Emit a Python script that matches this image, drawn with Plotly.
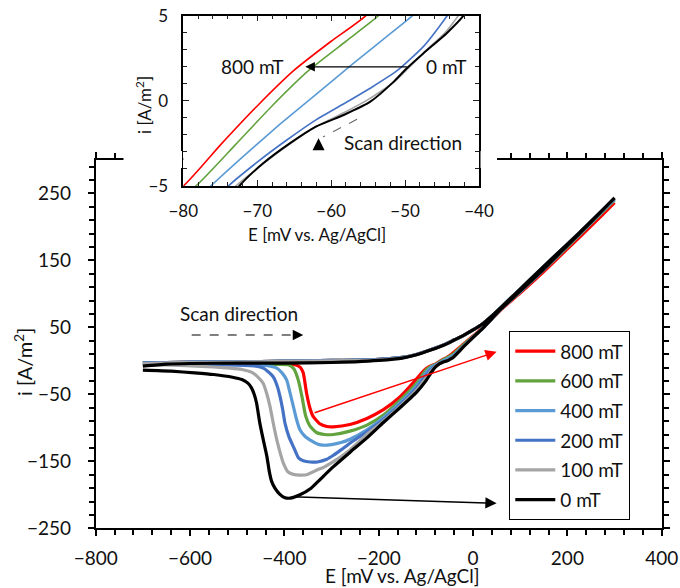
import plotly.graph_objects as go

# ---------------------------------------------------------------------------
# Data: linear sweep voltammograms under different magnetic fields
# E in mV vs. Ag/AgCl, i in A/m^2
# ---------------------------------------------------------------------------
FIELDS = ["800 mT", "600 mT", "400 mT", "200 mT", "100 mT", "0 mT"]
COLORS = ["#FF0000", "#63A33E", "#5B9BD5", "#4472C4", "#A5A5A5", "#000000"]

# forward sweep (shared potential grid)
E_FWD = [-700, -650, -600, -500, -400, -300, -250, -200, -150, -120, -90, -60,
         -40, -20, 0, 20, 40, 60, 100, 150, 200, 250, 300]
I_FWD_800 = [-3, -2.5, -2, -1.5, -0.5, 0.5, 1, 2, 5, 9.5, 16.5, 24.5,
             31, 38, 46, 55, 66, 78, 105, 138, 170, 203, 236]
I_FWD_600 = [-3, -2.5, -2, -1.5, -0.5, 0.5, 1, 2, 5, 9.5, 16.5, 24.5,
             31, 38, 46, 55, 67, 80, 107, 140, 173, 206, 240]
I_FWD_400 = [-3, -2.5, -2, -1.5, -0.5, 0.5, 1, 2, 5, 9.5, 16.5, 24.5,
             31, 38, 46, 55, 67, 80, 107, 140, 173, 207, 241]
I_FWD_200 = [-3, -2.5, -2, -1.5, -0.5, 0.5, 1, 2, 5, 9.5, 16.5, 24.5,
             31, 38, 46, 55, 67, 80, 107, 141, 174, 208, 242]
I_FWD_100 = [-4, -3, -2.5, -2, -1, 0, 0.5, 1.5, 4.5, 9, 16, 24,
             31, 38, 46, 55, 67, 80, 107, 141, 174, 208, 243]
I_FWD_0 = [-8, -5, -4, -3.5, -3.5, -2.5, -1.5, 0.5, 4, 9, 16, 24,
           31, 38, 46, 55, 67, 80, 107, 141, 174, 208, 243]

# reverse sweep (each curve has its own potential points)
E_REV_800 = [300, 250, 200, 150, 100, 60, 40, 20, 0, -20, -40, -55.3, -60,
             -65, -70, -75, -80, -90, -100, -110, -127, -155, -190, -225,
             -261, -296, -310, -325, -339, -346, -353, -360, -366, -374, -385,
             -420, -500, -600, -700]
I_REV_800 = [236, 201, 167, 133, 101, 77, 63, 49, 37, 25, 13, 5, 3.5,
             1.8, -0.3, -2.6, -5, -7.8, -12, -19, -33, -54, -73, -86,
             -95, -98.5, -98, -94, -83, -70, -48, -18, -10, -6.5, -5.5,
             -5, -4.5, -4, -4]

E_REV_600 = [300, 250, 200, 150, 100, 60, 40, 20, 0, -20, -40, -53.6, -58,
             -63, -68, -73, -78.3, -90, -100, -120, -155, -190, -225,
             -261, -296, -315, -332, -346, -355, -362, -370, -380, -392,
             -420, -500, -600, -700]
I_REV_600 = [240, 205, 170, 136, 103, 78, 63, 48, 36, 24, 11, 5, 3.5,
             1.8, -0.3, -2.6, -5, -8.8, -14, -34, -59, -81, -96,
             -105, -110, -110, -107, -97, -82, -56, -30, -12, -6,
             -5.5, -5, -4.5, -4]

E_REV_400 = [300, 250, 200, 150, 100, 60, 40, 20, 0, -20, -40, -49, -53,
             -57, -62, -67, -72, -76.3, -90, -100, -120, -155, -190,
             -225, -261, -280, -300, -318, -330, -346, -356, -367, -374, -381,
             -388, -395, -405, -416, -440, -500, -600, -700]
I_REV_400 = [241, 206, 171, 136, 103, 78, 63, 48, 35, 22, 9, 5, 3.6,
             2.2, 0.4, -1.4, -3.3, -5, -10.5, -18, -38, -63, -85,
             -103, -117, -122, -125, -126, -124, -118, -113, -103, -88, -68,
             -48, -29, -18, -11, -7, -5.5, -4.5, -4]

E_REV_200 = [300, 250, 200, 150, 100, 60, 40, 20, 0, -20, -35, -44.3, -47.5,
             -51, -54.5, -58, -62, -66, -70, -73.9, -80, -90, -100, -120,
             -155, -190, -225, -261, -280, -296, -310, -330, -345, -360, -370,
             -381, -390, -398.7, -403, -409, -415, -423.5, -435, -444.7, -460,
             -500, -600, -700]
I_REV_200 = [242, 207, 172, 137, 104, 78, 63, 48, 35, 22, 11, 5, 3.2,
             1.8, 0.8, -0.1, -1.1, -2.3, -3.6, -5, -7.8, -14, -22, -41,
             -66, -88, -106, -123, -133, -141, -147, -151, -151, -149, -145,
             -128, -114, -93, -75, -54, -38, -24, -16, -11, -8,
             -6.5, -5, -4]

E_REV_100 = [300, 250, 200, 150, 100, 60, 40, 20, 0, -20, -35, -42.8, -44.6,
             -47.3, -49.6, -51.5, -54.9, -58.3, -62, -65.8, -69.5, -72.9, -80,
             -90, -100, -120, -155, -190, -225, -261, -296, -317, -331, -353,
             -367, -381, -392, -402, -409, -416, -423, -430.5, -437, -444.7,
             -455, -470, -490, -515, -586, -657, -700]
I_REV_100 = [243, 207, 172, 137, 104, 78, 63, 48, 35, 21, 10, 5, 4.0,
             2.9, 1.9, 1.1, 0.1, -0.7, -1.5, -2.6, -3.8, -5, -8.3,
             -16.5, -26, -44, -68, -90, -110, -133, -150.6, -159, -163, -170,
             -170.5, -169.5, -166, -153, -137, -118, -95, -68, -50, -34,
             -25, -17, -13, -11, -7.8, -6, -5]

E_REV_0 = [300, 250, 200, 150, 100, 60, 40, 20, 0, -20, -35, -42.1, -44.4,
           -47.5, -49.8, -51.6, -54.7, -58.3, -62, -65.6, -69.2, -72.3, -80,
           -90, -100, -120, -155, -190, -225, -260, -296, -330, -345, -367,
           -388, -400, -410, -420, -427, -432, -437, -445, -452, -459, -464,
           -470, -478, -490, -510, -550, -590, -640, -700]
I_REV_0 = [243, 207, 172, 137, 104, 78, 63, 48, 35, 21, 10, 5, 3.96,
           2.8, 1.9, 1.1, -0.05, -0.83, -1.5, -2.5, -3.67, -4.94, -9.5,
           -19, -30, -47, -70, -92, -115, -136, -158, -181, -191, -200,
           -205, -204, -199, -190, -180, -165, -143, -117, -93, -63, -50,
           -40, -33, -28, -24.5, -20.5, -18, -15.5, -14]

CURVES = [
    (E_REV_800, I_FWD_800, I_REV_800),
    (E_REV_600, I_FWD_600, I_REV_600),
    (E_REV_400, I_FWD_400, I_REV_400),
    (E_REV_200, I_FWD_200, I_REV_200),
    (E_REV_100, I_FWD_100, I_REV_100),
    (E_REV_0, I_FWD_0, I_REV_0),
]

FONT = "Lato"
W, H = 680, 588

# plot-area geometry in pixels
MAIN_X = (95.7, 661.7)
MAIN_Y = (159.8, 528.3)     # top, bottom
INS_X = (183.3, 479.0)
INS_Y = (15.7, 186.0)


def px_x(p):
    return p / W


def px_y(p):
    return 1 - p / H


fig = go.Figure()

for name, color, (e_rev, i_fwd, i_rev) in zip(FIELDS, COLORS, CURVES):
    e_all = list(E_FWD) + list(e_rev)
    i_all = list(i_fwd) + list(i_rev)
    fig.add_trace(go.Scatter(
        x=e_all, y=i_all, mode="lines", name=name,
        legendgroup=name,
        line=dict(color=color, width=3.2, shape="spline", smoothing=0.5),
        xaxis="x", yaxis="y"))

for name, color, (e_rev, i_fwd, i_rev) in zip(FIELDS, COLORS, CURVES):
    e_all = list(E_FWD) + list(e_rev)
    i_all = list(i_fwd) + list(i_rev)
    fig.add_trace(go.Scatter(
        x=e_all, y=i_all, mode="lines", name=name, showlegend=False,
        line=dict(color=color, width=2.0 if name == "0 mT" else 1.6,
                  shape="spline", smoothing=0.5),
        xaxis="x2", yaxis="y2"))

tick_font = dict(family=FONT, size=19, color="#111")
axis_common = dict(showgrid=False, zeroline=False, showline=True,
                   linecolor="black", mirror="allticks")

fig.update_layout(
    width=W, height=H,
    margin=dict(l=0, r=0, t=0, b=0),
    paper_bgcolor="white", plot_bgcolor="white",
    font=dict(family=FONT, color="#111"),
    xaxis=dict(
        **axis_common, domain=[px_x(MAIN_X[0]), px_x(MAIN_X[1])],
        range=[-800, 400], tick0=-800, dtick=200, anchor="y",
        linewidth=1.8, ticks="outside", ticklen=6, tickwidth=1.5,
        tickcolor="black", tickfont=tick_font, ticklabelstandoff=6,
        minor=dict(dtick=40, tick0=-800, ticks="outside", ticklen=5,
                   tickwidth=1.5, tickcolor="black"),
        automargin=False),
    yaxis=dict(
        **axis_common, domain=[px_y(MAIN_Y[1]), px_y(MAIN_Y[0])],
        range=[-250, 300], tick0=-250, dtick=100, anchor="x",
        linewidth=1.8, ticks="outside", ticklen=6, tickwidth=1.5,
        tickcolor="black", tickfont=tick_font, ticklabelstandoff=13,
        minor=dict(dtick=20, tick0=-250, ticks="outside", ticklen=5,
                   tickwidth=1.5, tickcolor="black"),
        automargin=False),
    xaxis2=dict(
        **axis_common, domain=[px_x(INS_X[0]), px_x(INS_X[1])],
        range=[-80, -40], tick0=-80, dtick=10, anchor="y2",
        linewidth=1.5, ticks="inside", ticklen=6, tickwidth=1.3,
        tickcolor="#222", tickfont=dict(family=FONT, size=17, color="#111"),
        ticklabelstandoff=9,
        minor=dict(dtick=2, tick0=-80, ticks="inside", ticklen=4,
                   tickwidth=1.2, tickcolor="#222"),
        automargin=False),
    yaxis2=dict(
        **axis_common, domain=[px_y(INS_Y[1]), px_y(INS_Y[0])],
        range=[-5, 5], tick0=-5, dtick=5, anchor="x2",
        linewidth=1.5, ticks="inside", ticklen=6, tickwidth=1.3,
        tickcolor="#222", tickfont=dict(family=FONT, size=17, color="#111"),
        ticklabelstandoff=10,
        minor=dict(dtick=1, tick0=-5, ticks="inside", ticklen=4,
                   tickwidth=1.2, tickcolor="#222"),
        automargin=False),
    legend=dict(
        x=px_x(509), y=px_y(331), xanchor="left", yanchor="top",
        bgcolor="white", bordercolor="black", borderwidth=1.3,
        font=dict(family=FONT, size=19, color="#111"),
        tracegroupgap=2, itemwidth=40),
    showlegend=True,
)

# white patches hiding the main frame behind the inset block
for x0, x1 in [(123.5, 182.0), (480.5, 497.0)]:
    fig.add_shape(type="rect", xref="paper", yref="paper",
                  x0=px_x(x0), x1=px_x(x1), y0=px_y(168), y1=px_y(151),
                  fillcolor="white", line=dict(width=0), layer="above")

# dashed "scan direction" guides
fig.add_shape(type="line", xref="x", yref="y", x0=-596.5, x1=-372,
              y0=38.5, y1=38.5, line=dict(color="#555", width=1.3, dash="dash"))
fig.add_shape(type="line", xref="x2", yref="y2", x0=-56.5, y0=-1.08,
              x1=-61.1, y1=-2.12, line=dict(color="#666", width=1.1, dash="dash"))

centered = dict(xanchor="center", yanchor="middle", showarrow=False)
ann = [
    # axis titles
    dict(text="E [mV vs. Ag/AgCl]", x=px_x(402), y=px_y(575), xref="paper",
         yref="paper", font=dict(size=19), **centered),
    dict(text="i [A/m<sup>2</sup>]", x=px_x(23), y=px_y(362), xref="paper",
         yref="paper", textangle=-90, font=dict(size=20), **centered),
    dict(text="E [mV vs. Ag/AgCl]", x=px_x(316.7), y=px_y(235),
         xref="paper", yref="paper", font=dict(size=17), **centered),
    dict(text="i [A/m<sup>2</sup>]", x=px_x(143), y=px_y(105), xref="paper",
         yref="paper", textangle=-90, font=dict(size=17), **centered),
    # main plot labels and arrows
    dict(text="Scan direction", x=-496, y=71.3, xref="x", yref="y",
         font=dict(size=19), **centered),
    dict(text="", x=-360, y=38.5, xref="x", yref="y", ax=-11, ay=0,
         showarrow=True, arrowhead=2, arrowsize=1.4, arrowwidth=1.5,
         arrowcolor="black", standoff=0),
    dict(text="", x=50, y=13.6, xref="x", yref="y", ax=-339, ay=-78.4,
         axref="x", ayref="y", showarrow=True, arrowhead=2, arrowsize=1.5,
         arrowwidth=1.5, arrowcolor="#FF0000", standoff=0),
    dict(text="", x=50, y=-212.7, xref="x", yref="y", ax=-388, ay=-202.8,
         axref="x", ayref="y", showarrow=True, arrowhead=2, arrowsize=1.5,
         arrowwidth=1.5, arrowcolor="black", standoff=0),
    # inset labels and arrows
    dict(text="800 mT", x=-70.7, y=2.0, xref="x2", yref="y2",
         font=dict(size=19), **centered),
    dict(text="0 mT", x=-44.4, y=2.0, xref="x2", yref="y2",
         font=dict(size=19), **centered),
    dict(text="", x=-63.5, y=2.0, xref="x2", yref="y2", ax=-49.55, ay=2.0,
         axref="x2", ayref="y2", showarrow=True, arrowhead=2, arrowsize=1.6,
         arrowwidth=1.2, arrowcolor="black", standoff=0),
    dict(text="Scan direction", x=-50.3, y=-2.47, xref="x2", yref="y2",
         font=dict(size=19), **centered),
    dict(text="", x=-61.7, y=-2.2, xref="x2", yref="y2", ax=0, ay=9,
         showarrow=True, arrowhead=2, arrowsize=1.6, arrowwidth=1.5,
         arrowcolor="black", standoff=0),
]
fig.update_layout(annotations=ann)

fig.write_html("out.html")
